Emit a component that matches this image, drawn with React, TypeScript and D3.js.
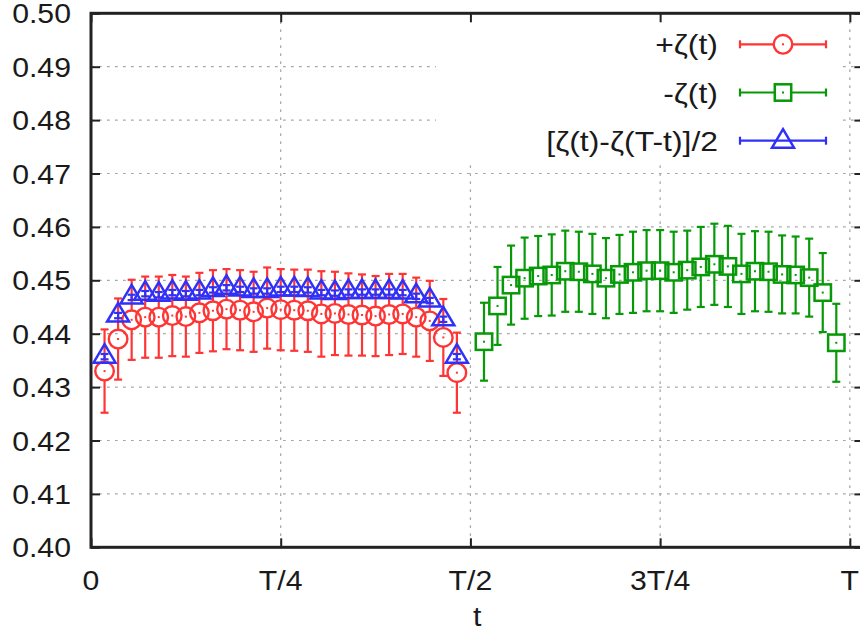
import React, { useRef, useEffect } from "react";
import * as d3 from "d3";

// time slices of the left half (+zeta and the symmetrised combination)
const tLeft = [1, 2, 3, 4, 5, 6, 7, 8, 9, 10, 11, 12, 13, 14, 15, 16, 17, 18, 19, 20, 21, 22, 23, 24, 25, 26, 27];
const plusZeta = [
  0.433, 0.439, 0.4426, 0.4431, 0.4431, 0.4434, 0.4432, 0.4439, 0.4443, 0.4446, 0.4444, 0.4441, 0.4448, 0.4445,
  0.4444, 0.4443, 0.4437, 0.4438, 0.4436, 0.4435, 0.4433, 0.4436, 0.4437, 0.4431, 0.4424, 0.4393, 0.4327,
];
const plusZetaErr = [
  0.0078, 0.0076, 0.0075, 0.0076, 0.0076, 0.0076, 0.0075, 0.0075, 0.0076, 0.0075, 0.0075, 0.0075, 0.0076, 0.0076,
  0.0076, 0.0077, 0.008, 0.0078, 0.0077, 0.0076, 0.0075, 0.0076, 0.0075, 0.0074, 0.0075, 0.0072, 0.0075,
];
const symZeta = [
  0.4357, 0.4434, 0.4468, 0.4475, 0.4473, 0.4477, 0.4475, 0.4477, 0.4482, 0.4486, 0.4483, 0.448, 0.448, 0.4483,
  0.4483, 0.4482, 0.4477, 0.4476, 0.4478, 0.4478, 0.4478, 0.4478, 0.4477, 0.447, 0.4462, 0.4427, 0.4357,
];
const symZetaErr = [
  0.0005, 0.0005, 0.0005, 0.0005, 0.0005, 0.0005, 0.0005, 0.0005, 0.0005, 0.0005, 0.0005, 0.0005, 0.0005, 0.0005,
  0.0005, 0.0005, 0.0005, 0.0005, 0.0005, 0.0005, 0.0005, 0.0005, 0.0005, 0.0005, 0.0005, 0.0005, 0.0005,
];

// time slices of the right half (-zeta)
const tRight = [29, 30, 31, 32, 33, 34, 35, 36, 37, 38, 39, 40, 41, 42, 43, 44, 45, 46, 47, 48, 49, 50, 51, 52, 53, 54, 55];
const minusZeta = [
  0.4385, 0.4452, 0.4491, 0.4504, 0.4508, 0.451, 0.4517, 0.4516, 0.4512, 0.4504, 0.4511, 0.4515, 0.4518, 0.4518,
  0.4515, 0.4519, 0.4525, 0.453, 0.4526, 0.4512, 0.4517, 0.4516, 0.4511, 0.451, 0.4505, 0.4477, 0.4383,
];
const minusZetaErr = [
  0.0073, 0.0073, 0.0074, 0.0076, 0.0075, 0.0076, 0.0076, 0.0075, 0.0075, 0.0075, 0.0074, 0.0076, 0.0076, 0.0076,
  0.0076, 0.0074, 0.0075, 0.0076, 0.0076, 0.0075, 0.0075, 0.0075, 0.0073, 0.0072, 0.0073, 0.0074, 0.0073,
];

const yTicks = [0.4, 0.41, 0.42, 0.43, 0.44, 0.45, 0.46, 0.47, 0.48, 0.49, 0.5];
const xTicks = [0, 14, 28, 42, 56];
const xTickLabels = ["0", "T/4", "T/2", "3T/4", "T"];
const legendLabels = ["+ζ(t)", "-ζ(t)", "[ζ(t)-ζ(T-t)]/2"];

const RED = "#ff3535";
const GREEN = "#079907";
const BLUE = "#3030f6";
const FONT = "'Liberation Sans', Arial, sans-serif";
const STRETCH = 1.12; // the picture's lettering is a bit wider than Arial

const App = () => {
  const svgRef = useRef<SVGSVGElement>(null);

  useEffect(() => {
    const svg = d3.select(svgRef.current);
    svg.selectAll("*").remove();

    const x = d3.scaleLinear().domain([0, 57]).range([91, 863.4]);
    const y = d3.scaleLinear().domain([0.4, 0.5]).range([547.3, 13.3]);

    const label = (g: any, tx: number, ty: number, s: string, anchor: string, size = 27) =>
      g
        .append("text")
        .attr("transform", `translate(${tx},${ty}) scale(${STRETCH},1)`)
        .attr("text-anchor", anchor)
        .attr("font-family", FONT)
        .attr("font-size", size)
        .attr("fill", "#1a1a1a")
        .text(s);

    // grid
    const grid = svg
      .append("g")
      .attr("stroke", "#a6a6a6")
      .attr("stroke-width", 1.2)
      .attr("stroke-dasharray", "2.7,5.3");
    grid
      .append("g")
      .selectAll("line")
      .data(yTicks.slice(1, -1))
      .join("line")
      .attr("x1", x(0))
      .attr("x2", x(57))
      .attr("y1", (d) => y(d))
      .attr("y2", (d) => y(d));
    grid
      .append("g")
      .selectAll("line")
      .data(xTicks.slice(1))
      .join("line")
      .attr("x1", (d) => x(d))
      .attr("x2", (d) => x(d))
      .attr("y1", y(0.5))
      .attr("y2", y(0.4));

    // opaque key box
    svg.append("rect").attr("x", 436).attr("y", 15).attr("width", 407).attr("height", 150).attr("fill", "#fff");

    // ticks (inward, mirrored)
    const tickStyle = (g: any) => {
      g.select(".domain").remove();
      g.selectAll("line").attr("stroke", "#222").attr("stroke-width", 2);
      g.selectAll("text").remove();
    };
    svg.append("g").attr("transform", `translate(${x(0)},0)`)
      .call(d3.axisLeft(y).tickValues(yTicks).tickSize(-9)).call(tickStyle);
    svg.append("g").attr("transform", `translate(${x(57)},0)`)
      .call(d3.axisRight(y).tickValues(yTicks).tickSize(-9)).call(tickStyle);
    svg.append("g").attr("transform", `translate(0,${y(0.4)})`)
      .call(d3.axisBottom(x).tickValues(xTicks).tickSize(-9)).call(tickStyle);
    svg.append("g").attr("transform", `translate(0,${y(0.5)})`)
      .call(d3.axisTop(x).tickValues(xTicks).tickSize(-9)).call(tickStyle);

    // border
    svg
      .append("rect")
      .attr("x", x(0))
      .attr("y", y(0.5))
      .attr("width", x(57) - x(0))
      .attr("height", y(0.4) - y(0.5))
      .attr("fill", "none")
      .attr("stroke", "#222")
      .attr("stroke-width", 3);

    // tick labels
    const lab = svg.append("g");
    yTicks.forEach((v) => label(lab, 71, y(v) + 10, v.toFixed(2), "end"));
    xTicks.forEach((v, i) => label(lab, x(v), 590, xTickLabels[i], "middle"));
    label(lab, (x(0) + x(57)) / 2, 626, "t", "middle");

    // markers
    const marker = (g: any, kind: string, cx: number, cy: number, color: string) => {
      if (kind === "circle") {
        g.append("circle").attr("cx", cx).attr("cy", cy).attr("r", 9.3)
          .attr("fill", "none").attr("stroke", color).attr("stroke-width", 2.4);
      } else if (kind === "square") {
        g.append("rect").attr("x", cx - 8.2).attr("y", cy - 8.2).attr("width", 16.4).attr("height", 16.4)
          .attr("fill", "none").attr("stroke", color).attr("stroke-width", 2.5);
      } else {
        g.append("path")
          .attr("d", `M${cx},${cy - 12.5}L${cx + 11},${cy + 6}L${cx - 11},${cy + 6}Z`)
          .attr("fill", "none").attr("stroke", color).attr("stroke-width", 2.5).attr("stroke-linejoin", "miter");
      }
    };

    const series = (ts: number[], vals: number[], errs: number[], color: string, kind: string, gap: number) => {
      const g = svg.append("g").attr("stroke", color).attr("stroke-width", 2.2);
      ts.forEach((t, i) => {
        const cx = x(t);
        const cy = y(vals[i]);
        const lo = y(vals[i] - errs[i]);
        const hi = y(vals[i] + errs[i]);
        if (gap > 0) {
          g.append("line").attr("x1", cx).attr("x2", cx).attr("y1", hi).attr("y2", Math.min(cy - gap, lo));
          g.append("line").attr("x1", cx).attr("x2", cx).attr("y1", Math.max(cy + gap, hi)).attr("y2", lo);
          g.append("rect").attr("x", cx - 1).attr("y", cy - 1).attr("width", 2).attr("height", 2)
            .attr("fill", color).attr("stroke", "none");
        } else {
          g.append("line").attr("x1", cx).attr("x2", cx).attr("y1", hi).attr("y2", lo);
        }
        g.append("line").attr("x1", cx - 4).attr("x2", cx + 4).attr("y1", hi).attr("y2", hi);
        g.append("line").attr("x1", cx - 4).attr("x2", cx + 4).attr("y1", lo).attr("y2", lo);
        marker(g, kind, cx, cy, color);
      });
    };

    series(tLeft, plusZeta, plusZetaErr, RED, "circle", 9);
    series(tRight, minusZeta, minusZetaErr, GREEN, "square", 8);
    series(tLeft, symZeta, symZetaErr, BLUE, "triangle", 0);

    // key
    const key = svg.append("g");
    const keyItems = [
      { color: RED, kind: "circle", gap: 9 },
      { color: GREEN, kind: "square", gap: 8 },
      { color: BLUE, kind: "triangle", gap: 0 },
    ];
    keyItems.forEach((it, i) => {
      const ky = 44.3 + i * 48.2;
      label(key, 718, ky + 10, legendLabels[i], "end", 28.5);
      const g = key.append("g").attr("stroke", it.color).attr("stroke-width", 2.2);
      const x1 = 740, x2 = 826, cx = 783;
      if (it.gap > 0) {
        g.append("line").attr("x1", x1).attr("x2", cx - it.gap).attr("y1", ky).attr("y2", ky);
        g.append("line").attr("x1", cx + it.gap).attr("x2", x2).attr("y1", ky).attr("y2", ky);
        g.append("rect").attr("x", cx - 1).attr("y", ky - 1).attr("width", 2).attr("height", 2)
          .attr("fill", it.color).attr("stroke", "none");
      } else {
        g.append("line").attr("x1", x1).attr("x2", x2).attr("y1", ky).attr("y2", ky);
      }
      g.append("line").attr("x1", x1).attr("x2", x1).attr("y1", ky - 4).attr("y2", ky + 4);
      g.append("line").attr("x1", x2).attr("x2", x2).attr("y1", ky - 4).attr("y2", ky + 4);
      marker(g, it.kind, cx, it.kind === "triangle" ? ky + 1 : ky, it.color);
    });
  }, []);

  return (
    <svg
      ref={svgRef}
      width={860}
      height={643}
      style={{ position: "absolute", left: 0, top: 0, background: "#fff" }}
    ></svg>
  );
};

export default App;
